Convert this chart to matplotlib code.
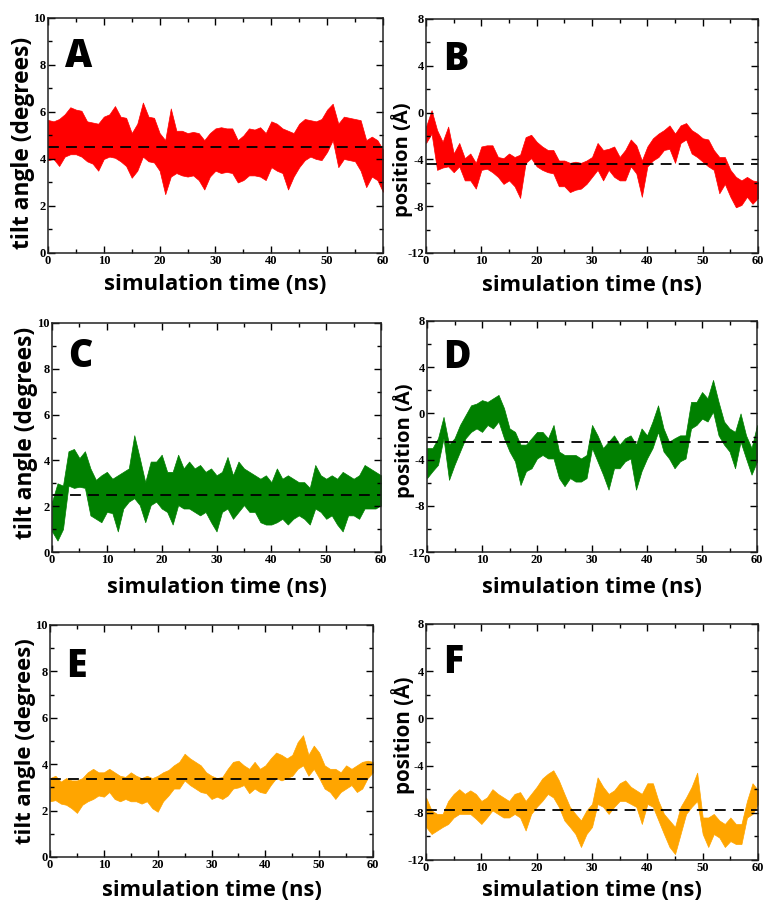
import numpy as np
import matplotlib
matplotlib.use("Agg")
import matplotlib.pyplot as plt
from matplotlib.ticker import MultipleLocator

plt.rcParams["axes.unicode_minus"] = False

# time axis (ns), envelope at every 1 ns
time_ns = list(range(61))

# --- A: tilt angle, red ---
tilt_a_hi = [5.66, 5.6, 5.7, 5.9, 6.2, 6.1, 6.05, 5.6, 5.55, 5.5, 5.8, 5.9, 6.25, 5.8, 5.75, 5.1,
             5.5, 6.4, 5.8, 5.75, 5.1, 4.8, 6.15, 5.2, 5.2, 5.1, 5.15, 5.1, 4.8, 5.1, 5.3, 5.35,
             5.3, 5.3, 4.8, 5.0, 5.3, 5.25, 5.35, 5.1, 5.6, 5.5, 5.3, 5.2, 5.1, 5.5, 5.7, 5.65,
             5.6, 5.7, 6.1, 6.35, 5.5, 5.8, 5.75, 5.7, 5.65, 4.8, 4.95, 4.8, 4.4]
tilt_a_lo = [3.95, 4.0, 3.7, 4.1, 4.2, 4.2, 4.1, 3.9, 3.8, 3.5, 4.0, 4.1, 4.05, 3.9, 3.7, 3.2,
             3.5, 4.1, 3.9, 3.85, 3.5, 2.5, 3.25, 3.4, 3.3, 3.25, 3.3, 3.1, 2.7, 3.25, 3.5, 3.4,
             3.45, 3.4, 3.0, 3.1, 3.3, 3.3, 3.25, 3.1, 3.65, 3.5, 3.4, 2.7, 3.25, 3.65, 3.95, 4.1,
             4.0, 3.95, 4.3, 4.8, 3.65, 4.0, 3.95, 3.9, 3.5, 2.8, 3.25, 3.1, 2.6]

# --- B: position, red ---
pos_b_hi = [-1.2, 0.2, -1.5, -2.5, -1.2, -3.5, -2.6, -3.9, -3.5, -4.3, -2.9, -2.8, -2.8, -3.8,
            -3.9, -3.5, -3.8, -3.6, -2.1, -1.9, -2.5, -2.9, -3.2, -3.2, -4.1, -4.1, -4.3, -4.2,
            -4.3, -4.1, -3.8, -2.6, -3.2, -3.1, -2.9, -3.8, -3.2, -2.3, -2.8, -4.1, -2.9, -2.2,
            -1.8, -1.5, -1.1, -1.8, -1.1, -0.9, -1.5, -1.8, -2.2, -2.3, -3.2, -3.8, -3.8, -4.9,
            -5.5, -5.8, -5.5, -5.8, -5.9]
pos_b_lo = [-2.6, -1.8, -4.9, -4.7, -4.6, -5.1, -4.6, -5.8, -5.8, -6.5, -4.9, -4.8, -5.1, -5.5,
            -6.1, -5.8, -6.3, -7.3, -4.3, -3.9, -4.6, -4.9, -5.1, -5.2, -6.3, -6.3, -6.8, -6.6,
            -6.5, -6.1, -5.5, -4.9, -5.8, -4.9, -5.5, -5.8, -5.8, -4.6, -5.2, -7.2, -4.6, -4.1,
            -3.8, -3.2, -3.1, -4.3, -2.6, -2.3, -3.5, -3.8, -4.2, -4.6, -4.9, -6.9, -6.1, -7.2,
            -8.1, -7.9, -7.2, -7.8, -7.3]

# --- C: tilt angle, green ---
tilt_c_hi = [2.2, 3.0, 2.9, 4.4, 4.5, 4.1, 4.4, 3.65, 3.15, 3.35, 3.5, 3.2, 3.35, 3.5, 3.65, 5.1,
             4.1, 3.05, 3.95, 3.95, 4.25, 3.5, 3.5, 4.25, 3.65, 3.95, 3.65, 3.8, 3.5, 3.65, 3.35,
             3.5, 4.15, 3.35, 3.95, 3.65, 3.5, 3.35, 3.2, 3.35, 3.05, 3.65, 3.2, 3.35, 3.2, 3.05,
             3.05, 2.8, 3.8, 3.35, 3.2, 3.35, 3.2, 3.5, 3.35, 3.2, 3.35, 3.8, 3.65, 3.5, 3.35]
tilt_c_lo = [0.9, 0.5, 1.0, 2.9, 2.8, 2.85, 2.8, 1.6, 1.45, 1.3, 1.75, 1.7, 0.9, 1.9, 2.2, 2.35,
             2.05, 1.3, 2.05, 2.2, 1.9, 1.75, 1.2, 2.05, 1.9, 1.9, 1.75, 1.6, 1.75, 1.3, 0.9,
             1.75, 1.9, 1.45, 1.75, 2.05, 1.75, 1.75, 1.3, 1.2, 1.2, 1.3, 1.45, 1.2, 1.45, 1.6,
             1.45, 1.2, 1.9, 1.75, 1.45, 1.6, 1.2, 0.9, 1.6, 1.6, 1.45, 1.9, 1.9, 1.9, 2.05]

# --- D: position, green ---
pos_d_hi = [-3.0, -3.0, -2.15, -0.3, -2.7, -2.15, -1.0, -0.15, 0.7, 0.85, 1.15, 1.0, 1.3, 1.6,
            0.45, -1.3, -1.6, -2.7, -2.7, -2.15, -1.6, -1.6, -2.15, -1.0, -3.3, -3.6, -3.6, -3.6,
            -3.9, -3.6, -1.0, -1.9, -3.0, -2.45, -1.9, -2.7, -2.15, -1.9, -2.7, -1.3, -1.9, -0.7,
            0.7, -1.3, -2.45, -2.15, -1.9, -1.9, 1.0, 1.0, 1.85, 1.3, 2.9, 1.0, -0.7, -1.3, -1.6,
            0.0, -1.9, -3.0, -1.0]
pos_d_lo = [-5.6, -5.0, -4.45, -2.15, -5.75, -4.45, -3.3, -2.15, -1.6, -1.3, -1.6, -1.0, -1.3,
            -0.7, -2.15, -3.3, -4.15, -6.2, -5.0, -4.75, -3.9, -3.6, -3.9, -3.9, -5.6, -6.3, -5.6,
            -5.9, -5.9, -5.6, -3.0, -4.15, -5.3, -6.6, -4.75, -4.75, -4.15, -3.9, -6.6, -5.0,
            -3.9, -3.0, -1.6, -3.3, -3.9, -4.75, -4.15, -3.9, -1.3, -1.0, -0.45, -0.7, 0.15, -1.9,
            -2.7, -3.3, -4.75, -2.45, -3.9, -5.3, -4.15]

# --- E: tilt angle, orange ---
tilt_e_hi = [3.4, 3.5, 3.25, 3.4, 3.3, 3.3, 3.4, 3.65, 3.8, 3.65, 3.65, 3.8, 3.65, 3.5, 3.45,
             3.65, 3.5, 3.4, 3.5, 3.4, 3.5, 3.65, 3.75, 3.95, 4.1, 4.45, 4.25, 4.1, 3.95, 3.65,
             3.5, 3.4, 3.45, 3.8, 4.1, 4.15, 3.95, 3.8, 4.1, 3.8, 3.95, 4.25, 4.5, 4.4, 4.25, 4.4,
             4.95, 5.25, 4.4, 4.8, 4.5, 3.95, 3.8, 3.8, 3.65, 3.95, 3.8, 3.95, 4.1, 4.15, 4.1]
tilt_e_lo = [2.4, 2.45, 2.3, 2.25, 2.1, 1.9, 2.25, 2.4, 2.5, 2.65, 2.6, 2.8, 2.5, 2.4, 2.5, 2.4,
             2.4, 2.3, 2.4, 2.1, 1.95, 2.4, 2.65, 2.95, 2.95, 3.3, 3.1, 2.95, 2.8, 2.75, 2.5, 2.6,
             2.5, 2.65, 2.95, 3.0, 3.1, 2.75, 2.95, 2.8, 2.75, 3.1, 3.4, 3.3, 3.4, 3.5, 3.8, 3.95,
             3.5, 3.8, 3.4, 2.95, 2.8, 2.5, 2.8, 2.95, 3.1, 2.8, 2.95, 3.4, 3.65]

# --- F: position, orange ---
pos_f_hi = [-6.7, -7.8, -8.1, -8.1, -7.0, -6.4, -6.0, -6.4, -6.1, -6.4, -7.0, -6.7, -6.0, -6.4,
            -6.7, -7.0, -6.4, -6.25, -7.0, -6.4, -5.8, -5.1, -4.7, -4.4, -5.25, -6.4, -7.5, -8.1,
            -8.65, -7.8, -7.25, -5.0, -5.8, -6.4, -6.1, -5.5, -5.25, -5.8, -6.1, -6.4, -5.5, -5.5,
            -7.0, -8.1, -8.65, -9.2, -7.5, -6.7, -5.8, -4.6, -8.4, -8.4, -8.1, -8.65, -8.95, -8.4,
            -8.95, -8.95, -7.0, -5.5, -6.1]
pos_f_lo = [-9.2, -9.8, -9.5, -9.2, -8.95, -8.4, -8.1, -8.1, -8.1, -8.5, -8.95, -8.4, -7.8, -8.1,
            -8.4, -8.4, -8.1, -8.4, -9.5, -8.1, -7.5, -7.0, -6.4, -6.7, -7.5, -8.65, -9.2, -9.8,
            -10.9, -9.8, -9.2, -7.25, -7.5, -8.1, -7.5, -7.0, -7.0, -7.25, -7.5, -8.95, -7.25,
            -7.5, -8.65, -9.8, -10.9, -11.5, -9.8, -8.1, -7.5, -7.0, -9.8, -10.9, -9.8, -10.1,
            -10.9, -10.4, -10.65, -10.65, -8.4, -8.1, -7.25]

# averages (dashed lines)
mean_a, mean_b = 4.5, -4.4
mean_c, mean_d = 2.5, -2.5
mean_e, mean_f = 3.35, -7.8

RED, GREEN, ORANGE = "#ff0000", "#008000", "#ffa500"

sans = "Open Sans"
serif = "Liberation Serif"

fig = plt.figure(figsize=(7.65, 9.06), dpi=100)

# rect, letter, hi, lo, mean, color, kind, ylabel xy, xlabel y, letter y,
# target label lengths in px (xlabel, ylabel)
panels = [
    ([0.0627, 0.7208, 0.4379, 0.2594], "A", tilt_a_hi, tilt_a_lo, mean_a, RED, "tilt",
     (-0.075, 0.47), -0.136, 0.92, 222, 212),
    ([0.5569, 0.7208, 0.4340, 0.2583], "B", pos_b_hi, pos_b_lo, mean_b, RED, "pos",
     (-0.072, 0.40), -0.137, 0.91, 220, 115),
    ([0.0680, 0.3907, 0.4301, 0.2528], "C", tilt_c_hi, tilt_c_lo, mean_c, GREEN, "tilt",
     (-0.079, 0.52), -0.157, 0.94, 220, 212),
    ([0.5582, 0.3907, 0.4314, 0.2550], "D", pos_d_hi, pos_d_lo, mean_d, GREEN, "pos",
     (-0.070, 0.48), -0.154, 0.926, 220, 115),
    ([0.0654, 0.0541, 0.4222, 0.2561], "E", tilt_e_hi, tilt_e_lo, mean_e, ORANGE, "tilt",
     (-0.077, 0.50), -0.146, 0.905, 220, 205),
    ([0.5569, 0.0508, 0.4340, 0.2605], "F", pos_f_hi, pos_f_lo, mean_f, ORANGE, "pos",
     (-0.069, 0.53), -0.130, 0.92, 220, 118),
]

t = np.array(time_ns, dtype=float)
fits = []

for (rect, letter, hi, lo, mean, color, kind, ylxy, xly, lety,
     xlen, ylen) in panels:
    ax = fig.add_axes(rect)
    ax.fill_between(t, lo, hi, color=color, lw=0.5)
    ax.axhline(mean, color="black", lw=1.3, dashes=(6, 4))

    ax.set_xlim(0, 60)
    ax.xaxis.set_major_locator(MultipleLocator(10))
    ax.xaxis.set_minor_locator(MultipleLocator(5))
    if kind == "tilt":
        ax.set_ylim(0, 10)
        ax.yaxis.set_major_locator(MultipleLocator(2))
        ax.yaxis.set_minor_locator(MultipleLocator(1))
        ytxt = "tilt angle (degrees)"
    else:
        ax.set_ylim(-12, 8)
        ax.yaxis.set_major_locator(MultipleLocator(4))
        ax.yaxis.set_minor_locator(MultipleLocator(2))
        ytxt = "position (Å)"
    yl = ax.set_ylabel(ytxt, family=sans, fontweight="bold", fontsize=16,
                       ha="center", va="center")
    ax.yaxis.set_label_coords(*ylxy)
    xl = ax.set_xlabel("simulation time (ns)", family=sans, fontweight="bold",
                       fontsize=16, ha="center", va="center")
    ax.xaxis.set_label_coords(0.5, xly)
    fits.append((xl, xlen, "w"))
    fits.append((yl, ylen, "h"))

    ax.tick_params(which="both", direction="in", top=True, right=True,
                   width=1, pad=1.5, labelsize=9)
    ax.tick_params(which="major", length=5)
    ax.tick_params(which="minor", length=3)
    for lab in ax.get_xticklabels() + ax.get_yticklabels():
        lab.set_family(serif)
        lab.set_fontweight("bold")
    for sp in ax.spines.values():
        sp.set_linewidth(1.1)
        sp.set_color("#222222")

    ax.text(0.05, lety, letter, transform=ax.transAxes, family=sans,
            fontweight="heavy", fontsize=27, va="top", ha="left")

# scale axis-label font sizes so their lengths match the original
fig.canvas.draw()
rend = fig.canvas.get_renderer()
for lab, target, dim in fits:
    bb = lab.get_window_extent(rend)
    size = bb.width if dim == "w" else bb.height
    lab.set_fontsize(lab.get_fontsize() * target / size)

fig.savefig("out.png", dpi=100)
